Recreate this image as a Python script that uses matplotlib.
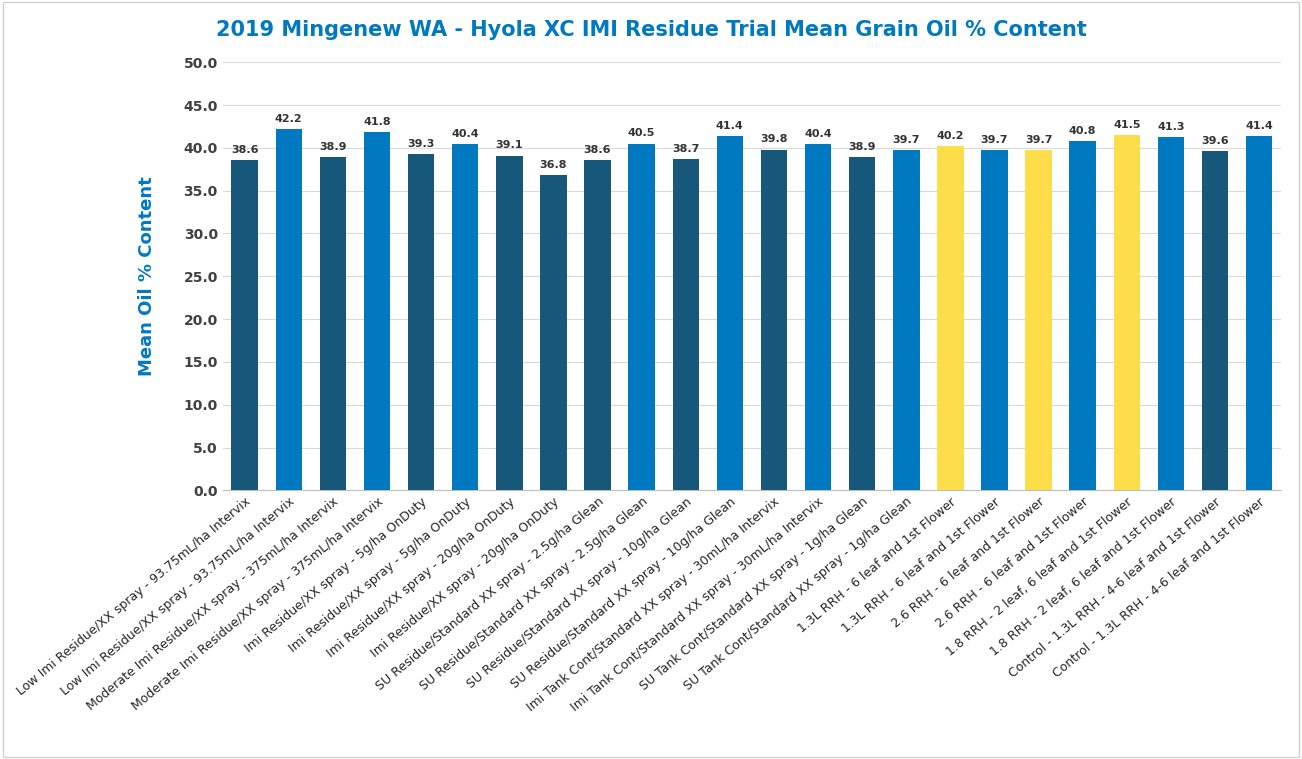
import matplotlib
matplotlib.use("Agg")
import matplotlib.pyplot as plt
from matplotlib.patches import Rectangle

labels = [
    "Low Imi Residue/XX spray - 93.75mL/ha Intervix",
    "Low Imi Residue/XX spray - 93.75mL/ha Intervix",
    "Moderate Imi Residue/XX spray - 375mL/ha Intervix",
    "Moderate Imi Residue/XX spray - 375mL/ha Intervix",
    "Imi Residue/XX spray - 5g/ha OnDuty",
    "Imi Residue/XX spray - 5g/ha OnDuty",
    "Imi Residue/XX spray - 20g/ha OnDuty",
    "Imi Residue/XX spray - 20g/ha OnDuty",
    "SU Residue/Standard XX spray - 2.5g/ha Glean",
    "SU Residue/Standard XX spray - 2.5g/ha Glean",
    "SU Residue/Standard XX spray - 10g/ha Glean",
    "SU Residue/Standard XX spray - 10g/ha Glean",
    "Imi Tank Cont/Standard XX spray - 30mL/ha Intervix",
    "Imi Tank Cont/Standard XX spray - 30mL/ha Intervix",
    "SU Tank Cont/Standard XX spray - 1g/ha Glean",
    "SU Tank Cont/Standard XX spray - 1g/ha Glean",
    "1.3L RRH - 6 leaf and 1st Flower",
    "1.3L RRH - 6 leaf and 1st Flower",
    "2.6 RRH - 6 leaf and 1st Flower",
    "2.6 RRH - 6 leaf and 1st Flower",
    "1.8 RRH - 2 leaf, 6 leaf and 1st Flower",
    "1.8 RRH - 2 leaf, 6 leaf and 1st Flower",
    "Control - 1.3L RRH - 4-6 leaf and 1st Flower",
    "Control - 1.3L RRH - 4-6 leaf and 1st Flower",
]
values = [38.6, 42.2, 38.9, 41.8, 39.3, 40.4, 39.1, 36.8, 38.6, 40.5, 38.7, 41.4,
          39.8, 40.4, 38.9, 39.7, 40.2, 39.7, 39.7, 40.8, 41.5, 41.3, 39.6, 41.4]
groups = ["d", "b", "d", "b", "d", "b", "d", "d", "d", "b", "d", "b",
          "d", "b", "d", "b", "y", "b", "y", "b", "y", "b", "d", "b"]
cmap = {"d": "#17577A", "b": "#0079C1", "y": "#FDDD4A"}

fig = plt.figure(figsize=(13.02, 7.59), dpi=100)
fig.patches.append(Rectangle((0.002, 0.003), 0.996, 0.994, transform=fig.transFigure,
                             fill=False, edgecolor="#D0D0D0", lw=1))
ax = fig.add_axes([0.171, 0.354, 0.813, 0.564])
x = list(range(len(values)))
bars = ax.bar(x, values, width=0.6, color=[cmap[g] for g in groups], zorder=3)
for xi, v in zip(x, values):
    ax.text(xi, v + 0.6, f"{v:.1f}", ha="center", va="bottom", fontsize=8,
            fontweight="bold", color="#333333")
ax.set_ylim(0, 50)
ax.set_xlim(-0.5, len(values) - 0.5)
ax.set_yticks([i * 5 for i in range(11)])
ax.set_yticklabels([f"{i*5:.1f}" for i in range(11)], fontsize=10, fontweight="bold", color="#404040")
ax.grid(axis="y", color="#D9D9D9", lw=0.8, zorder=0)
ax.set_xticks(x)
ax.set_xticklabels(labels, rotation=40, ha="right", rotation_mode="anchor", fontsize=9, color="#262626")
ax.tick_params(axis="both", length=0)
for s in ["top", "right", "left"]:
    ax.spines[s].set_visible(False)
ax.spines["bottom"].set_color("#BFBFBF")
ax.set_ylabel("Mean Oil % Content", fontsize=13, fontweight="bold", color="#0079C1", labelpad=20)
fig.text(0.5, 0.96, "2019 Mingenew WA - Hyola XC IMI Residue Trial Mean Grain Oil % Content",
         ha="center", va="center", fontsize=15, fontweight="bold", color="#0079C1")
fig.savefig("out.png", dpi=100)
